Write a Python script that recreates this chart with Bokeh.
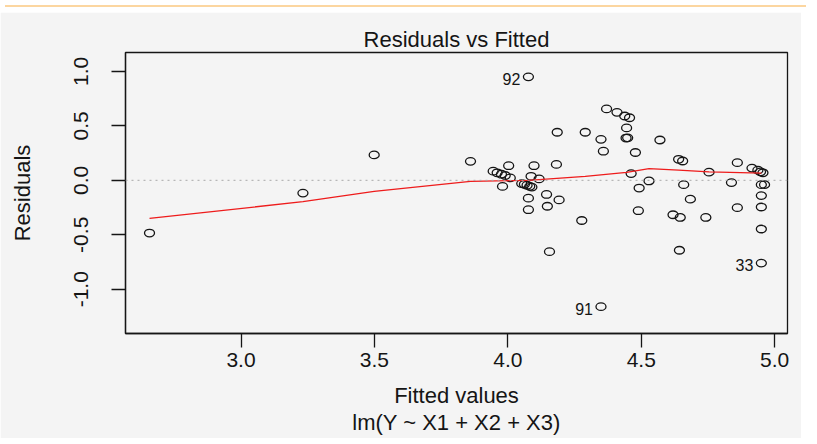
from bokeh.plotting import figure
from bokeh.models import Range1d, FixedTicker, NumeralTickFormatter, Span, Div, ColumnDataSource
from bokeh.layouts import column
from bokeh.core.properties import value
from bokeh.embed import file_html
from bokeh.resources import INLINE

# ---- data ----
fitted = [2.657, 3.232, 3.499, 3.860, 3.945, 3.960, 3.976, 3.990, 4.003, 4.009,
          3.980, 4.098, 4.087, 4.117, 4.052, 4.062, 4.072, 4.082, 4.090, 4.077,
          4.077, 4.145, 4.148, 4.192, 4.185, 4.182, 4.156, 4.277, 4.290, 4.349,
          4.358, 4.349, 4.370, 4.409, 4.438, 4.456, 4.445, 4.443, 4.449, 4.478,
          4.462, 4.492, 4.529, 4.489, 4.570, 4.640, 4.655, 4.659, 4.684, 4.619,
          4.646, 4.643, 4.754, 4.742, 4.860, 4.838, 4.860, 4.915, 4.937, 4.947,
          4.956, 4.950, 4.962, 4.950, 4.950, 4.950, 4.950, 4.077]
residuals = [-0.484, -0.117, 0.233, 0.174, 0.084, 0.069, 0.056, 0.044, 0.134, 0.022,
             -0.056, 0.134, 0.037, 0.013, -0.030, -0.036, -0.045, -0.055, -0.062, -0.164,
             -0.270, -0.130, -0.238, -0.180, 0.441, 0.146, -0.655, -0.369, 0.441, 0.376,
             0.267, -1.160, 0.655, 0.624, 0.590, 0.574, 0.481, 0.388, 0.390, 0.255,
             0.062, -0.071, -0.006, -0.279, 0.370, 0.193, 0.177, -0.040, -0.173, -0.316,
             -0.341, -0.642, 0.075, -0.341, 0.162, -0.021, -0.251, 0.112, 0.093, 0.078,
             0.069, -0.040, -0.040, -0.140, -0.245, -0.447, -0.760, 0.950]

smooth_x = [2.657, 3.232, 3.499, 3.860, 4.077, 4.290, 4.445, 4.529, 4.640, 4.754, 4.950]
smooth_y = [-0.350, -0.196, -0.102, -0.010, 0.000, 0.037, 0.072, 0.107, 0.093, 0.078, 0.065]

label_x = [4.077, 4.349, 4.950]
label_y = [0.950, -1.160, -0.760]
label_text = ["92", "91", "33"]

x_ticks = [3.0, 3.5, 4.0, 4.5, 5.0]
y_ticks = [-1.0, -0.5, 0.0, 0.5, 1.0]

FONT = "Liberation Sans"
BG = "#f4f4f4"
INK = "#151515"

p = figure(width=801, height=426, output_backend="svg", toolbar_location=None,
           x_range=Range1d(2.567, 5.048), y_range=Range1d(-1.406, 1.173),
           title="Residuals vs Fitted",
           min_border_left=125, min_border_right=14, min_border_top=40, min_border_bottom=104)

p.background_fill_color = BG
p.border_fill_color = BG
p.outline_line_color = INK
p.outline_line_width = 1.3
p.xgrid.visible = False
p.ygrid.visible = False

p.title.align = "center"
p.title.text_font = FONT
p.title.text_font_size = "22px"
p.title.text_font_style = "normal"
p.title.text_color = INK
p.title.standoff = 2

for ax in (p.xaxis[0], p.yaxis[0]):
    ax.axis_line_color = INK
    ax.axis_line_width = 1.3
    ax.major_tick_line_color = INK
    ax.major_tick_line_width = 1.3
    ax.major_tick_out = 14
    ax.major_tick_in = 0
    ax.minor_tick_line_color = None
    ax.major_label_text_font = FONT
    ax.major_label_text_font_size = "21px"
    ax.major_label_text_color = INK
    ax.axis_label_text_font = FONT
    ax.axis_label_text_font_size = "22px"
    ax.axis_label_text_font_style = "normal"
    ax.axis_label_text_color = INK
    ax.axis_label_text_line_height = 1.1
    ax.formatter = NumeralTickFormatter(format="0.0")

p.xaxis.ticker = FixedTicker(ticks=x_ticks)
p.yaxis.ticker = FixedTicker(ticks=y_ticks)
p.xaxis.axis_label = "Fitted values\nlm(Y ~ X1 + X2 + X3)"
p.yaxis.axis_label = "Residuals"
p.xaxis.major_label_standoff = 5
p.xaxis.axis_label_standoff = 13
p.yaxis.major_label_orientation = "vertical"
p.yaxis.major_label_standoff = 23
p.yaxis.axis_label_standoff = 37

p.add_layout(Span(location=0, dimension="width", line_color="#a8a8a8",
                  line_dash="2 4", line_width=1))

src = ColumnDataSource(dict(x=fitted, y=residuals))
p.ellipse("x", "y", width=10, height=7.5, width_units="screen", height_units="screen",
          source=src, fill_color=None, line_color=INK, line_width=1.3)

p.line(smooth_x, smooth_y, line_color="#ee1c1c", line_width=1.3)

lab = ColumnDataSource(dict(x=label_x, y=label_y, t=label_text))
p.text("x", "y", text="t", source=lab, x_offset=-8, y_offset=2,
       text_align="right", text_baseline="middle",
       text_font=value(FONT), text_font_size="16px", text_color=INK)

top_line = Div(text="", width=801, height=2,
               styles={"background-color": "#fcd6a0"})

layout = column(top_line, p, spacing=0)

open("out.html", "w").write(file_html(layout, INLINE))
